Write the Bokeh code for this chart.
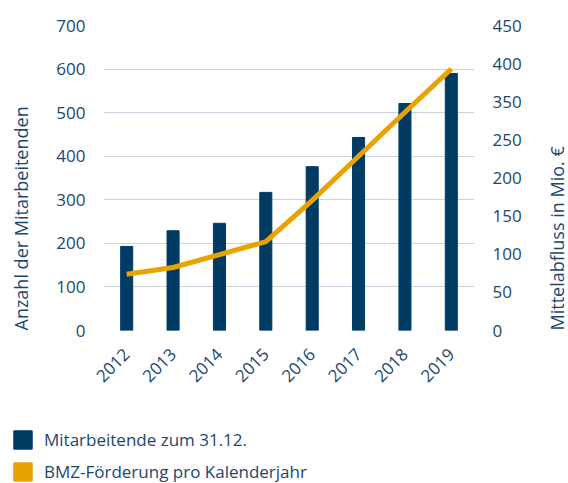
import math
from bokeh.plotting import figure
from bokeh.layouts import column, row
from bokeh.models import (Range1d, LinearAxis, FixedTicker, Legend, LegendItem,
                          ColumnDataSource, FactorRange, Label)
from bokeh.embed import file_html
from bokeh.resources import INLINE

# ---- data ----
years = ["2012", "2013", "2014", "2015", "2016", "2017", "2018", "2019"]
staff = [193, 229, 246, 317, 376, 443, 521, 590]          # Mitarbeitende zum 31.12.
funding = [83, 93, 112, 131, 192, 257, 322, 386]           # BMZ-Förderung (Mio. €)
left_ticks = [0, 100, 200, 300, 400, 500, 600, 700]
right_tick_labels = ["0", "50", "100", "150", "200", "250", "350", "400", "450"]
left_label = "Anzahl der Mitarbeitenden"
right_label = "Mittelabfluss in Mio. €"
legend_labels = ["Mitarbeitende zum 31.12.", "BMZ-Förderung pro Kalenderjahr"]

NAVY = "#003b64"
ORANGE = "#e9a300"
TEXT = "#1c4670"
GRID = "#c9d3de"
FONT = "Open Sans"
FS = "17px"
FS_TITLE = "18px"

LW, RW = 40, 30   # widths of the strips holding the axis titles

src = ColumnDataSource(dict(year=years, staff=staff, funding=funding))

p = figure(width=568 - LW - RW, height=410, x_range=FactorRange(*years),
           y_range=Range1d(0, 700), output_backend="svg", toolbar_location=None,
           min_border_left=103 - LW, min_border_right=94 - RW,
           min_border_top=25, min_border_bottom=80)
p.outline_line_color = None
p.x_range.range_padding = 0
p.extra_y_ranges = {"right": Range1d(0, 450)}

bars = p.vbar(x="year", top="staff", width=0.26, source=src, color=NAVY)
line = p.line(x="year", y="funding", source=src, y_range_name="right",
              line_width=5, color=ORANGE)

def style_axis(ax):
    ax.axis_line_color = None
    ax.major_tick_line_color = None
    ax.minor_tick_line_color = None
    ax.major_label_text_font = FONT
    ax.major_label_text_font_size = FS
    ax.major_label_text_color = TEXT

# left axis
ya = p.yaxis[0]
ya.ticker = FixedTicker(ticks=left_ticks)
style_axis(ya)
ya.major_label_standoff = 12

# right axis (labels as printed)
rticks = []
overrides = {}
n = len(right_tick_labels) - 1
for i, lab in enumerate(right_tick_labels):
    k = i * 450 / n
    k = int(k) if float(k).is_integer() else k
    rticks.append(k)
    overrides[k] = lab
ra = LinearAxis(y_range_name="right", ticker=FixedTicker(ticks=rticks),
                major_label_overrides=overrides)
style_axis(ra)
ra.major_label_standoff = 12
p.add_layout(ra, "right")

# x axis
xa = p.xaxis[0]
style_axis(xa)
xa.major_label_orientation = math.pi / 4
xa.major_label_standoff = 15

p.xgrid.grid_line_color = None
p.ygrid.grid_line_color = GRID
p.ygrid.grid_line_width = 1.2

# strips with the (bottom-aligned, upward-reading) axis titles
def title_strip(w, text, xc):
    f = figure(width=w, height=410, x_range=Range1d(0, 1), y_range=Range1d(0, 1),
               output_backend="svg", toolbar_location=None,
               x_axis_location=None, y_axis_location=None,
               min_border_left=0, min_border_right=0, min_border_top=25, min_border_bottom=75)
    f.grid.visible = False
    f.outline_line_color = None
    f.add_layout(Label(x=xc, y=0, x_units="screen", y_units="screen", text=text,
                       angle=math.pi / 2, text_align="left", text_baseline="middle",
                       text_font=FONT, text_font_size=FS_TITLE, text_color=TEXT))
    return f

lt = title_strip(LW, left_label, 20)
rt = title_strip(RW, right_label, 18)

# legend strip (swatches drawn outside the visible range, only shown in legend)
q = figure(width=568, height=73, x_range=Range1d(0, 1), y_range=Range1d(0, 1),
           output_backend="svg", toolbar_location=None,
           x_axis_location=None, y_axis_location=None,
           min_border_left=0, min_border_right=0, min_border_top=0, min_border_bottom=0)
q.grid.visible = False
q.outline_line_color = None
r1 = q.vbar(x=[5], top=[5], bottom=[4], width=0.1, color=NAVY)
r2 = q.vbar(x=[5], top=[5], bottom=[4], width=0.1, color=ORANGE)
legend = Legend(items=[LegendItem(label=legend_labels[0], renderers=[r1]),
                       LegendItem(label=legend_labels[1], renderers=[r2])],
                location=(11, 0), orientation="vertical",
                glyph_width=23, glyph_height=23, spacing=9, label_standoff=10,
                padding=0, margin=0, border_line_color=None, background_fill_alpha=0,
                label_text_font=FONT, label_text_font_size=FS, label_text_color=TEXT)
q.add_layout(legend, "center")

lay = column(row(lt, p, rt, spacing=0), column(q, spacing=0), spacing=0)
open("out.html", "w").write(file_html(lay, INLINE))
